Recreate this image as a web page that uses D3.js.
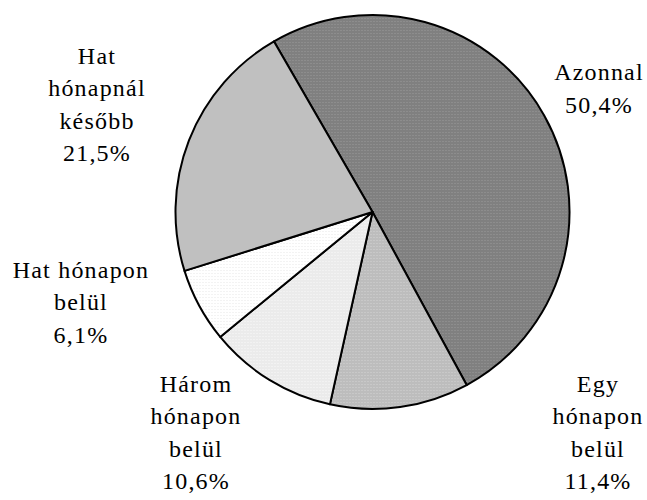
<!DOCTYPE html>
<html>
<head>
<meta charset="utf-8">
<script src="https://cdn.jsdelivr.net/npm/d3@7"></script>
<style>
  body { margin: 0; background: #fff; }
  svg { display: block; }
</style>
</head>
<body>
<div id="chart"></div>
<script>
// slices, clockwise starting from the top-left edge
const categories = ["Azonnal", "Egy hónapon belül", "Három hónapon belül", "Hat hónapon belül", "Hat hónapnál később"];
const labelLines = [["Azonnal"], ["Egy", "hónapon", "belül"], ["Három", "hónapon", "belül"], ["Hat hónapon", "belül"], ["Hat", "hónapnál", "később"]];
const values = [50.4, 11.4, 10.6, 6.1, 21.5];

// where each label block is centred (layout only)
const labelCenters = [[599, 88], [598, 432], [196, 432], [81, 302], [97, 104]];

const width = 647, height = 500;
const cx = 372.5, cy = 212, radius = 197;

const svg = d3.select("#chart")
    .append("svg")
        .attr("width", width)
        .attr("height", height);

// dotted fills like the original print patterns
const fills = [
    {base: "#808080", dot: "#9a9a9a"},
    {base: "#bdbdbd", dot: "#d2d2d2"},
    {base: "#ebebeb", dot: "#f8f8f8"},
    {base: "#ffffff", dot: "#e6e6e6"},
    {base: "#c0c0c0", dot: "#c0c0c0"}
];
const defs = svg.append("defs");
fills.forEach(function(f, i) {
    const p = defs.append("pattern")
        .attr("id", "fill" + i)
        .attr("patternUnits", "userSpaceOnUse")
        .attr("width", 3)
        .attr("height", 3);
    p.append("rect").attr("width", 3).attr("height", 3).attr("fill", f.base);
    p.append("rect").attr("x", 1).attr("y", 1).attr("width", 1).attr("height", 1).attr("fill", f.dot);
});

const start = -30 * Math.PI / 180;
const pie = d3.pie()
    .sort(null)
    .value(d => d)
    .startAngle(start)
    .endAngle(start + 2 * Math.PI);

const arc = d3.arc()
    .innerRadius(0)
    .outerRadius(radius);

const pieGroup = svg.append("g")
    .attr("transform", "translate(" + cx + "," + cy + ")");

pieGroup.selectAll("path")
    .data(pie(values))
    .enter()
    .append("path")
        .attr("d", arc)
        .attr("fill", (d, i) => "url(#fill" + i + ")")
        .attr("stroke", "#000")
        .attr("stroke-width", 2)
        .attr("stroke-linejoin", "round");

const fmt = v => d3.format(".1f")(v).replace(".", ",") + "%";
const lineGap = 32.5;

categories.forEach(function(cat, i) {
    const lines = labelLines[i].concat([fmt(values[i])]);
    const top = labelCenters[i][1] - (lines.length - 1) * lineGap / 2;
    svg.append("g")
        .selectAll("text")
        .data(lines)
        .enter()
        .append("text")
            .attr("x", labelCenters[i][0])
            .attr("y", (d, j) => top + j * lineGap)
            .attr("dy", "0.35em")
            .attr("text-anchor", "middle")
            .attr("font-family", "Liberation Serif")
            .attr("font-size", 24)
            .attr("letter-spacing", 1.2)
            .attr("fill", "#000")
            .text(d => d);
});
</script>
</body>
</html>
